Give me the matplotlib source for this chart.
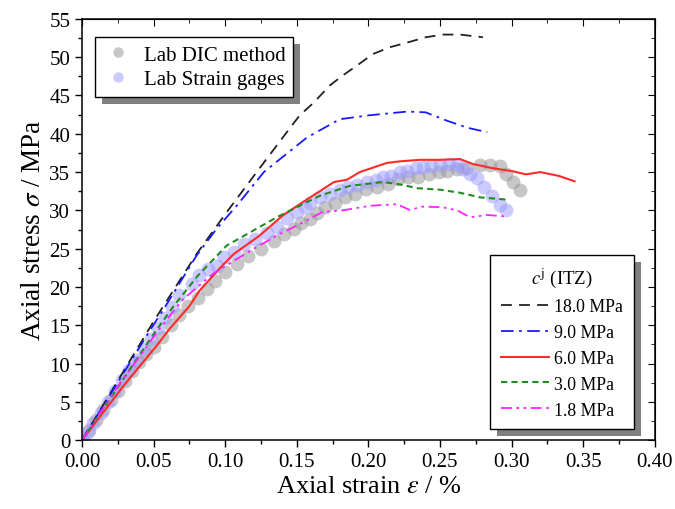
import numpy as np
import matplotlib.pyplot as plt
from matplotlib.patches import Rectangle

plt.rcParams['font.family'] = ['Liberation Serif', 'DejaVu Serif']
plt.rcParams['mathtext.fontset'] = 'stix'

# lab data (markers)
dic_x = [0.000, 0.005, 0.010, 0.015, 0.020, 0.025, 0.030, 0.035, 0.040, 0.045, 0.050, 0.056,
         0.062, 0.068, 0.074, 0.081, 0.087, 0.093, 0.100, 0.108, 0.116, 0.125, 0.134, 0.141,
         0.148, 0.153, 0.159, 0.164, 0.170, 0.177, 0.184, 0.191, 0.198, 0.206, 0.214, 0.221,
         0.228, 0.235, 0.242, 0.249, 0.255, 0.262, 0.269, 0.278, 0.285, 0.292, 0.296, 0.301, 0.306]
dic_y = [0.0, 1.3, 2.6, 3.9, 5.2, 6.4, 7.7, 9.0, 10.2, 11.2, 12.1, 13.5,
         15.0, 16.3, 17.5, 18.6, 19.7, 20.8, 21.9, 23.0, 24.1, 25.0, 26.0, 26.9,
         27.6, 28.4, 28.9, 29.7, 30.4, 31.0, 31.7, 32.1, 32.8, 33.0, 33.5, 34.1,
         34.3, 34.4, 34.7, 35.0, 35.2, 35.4, 35.5, 35.9, 35.9, 35.8, 34.8, 33.7, 32.7]
sg_x = [0.001, 0.004, 0.008, 0.013, 0.018, 0.023, 0.028, 0.033, 0.038, 0.043, 0.048, 0.053,
        0.058, 0.063, 0.068, 0.077, 0.082, 0.088, 0.094, 0.099, 0.106, 0.113, 0.121, 0.129,
        0.136, 0.143, 0.150, 0.156, 0.159, 0.166, 0.173, 0.180, 0.186, 0.192, 0.199, 0.205,
        0.210, 0.216, 0.222, 0.227, 0.233, 0.238, 0.244, 0.250, 0.256, 0.262, 0.266, 0.271,
        0.276, 0.281, 0.286, 0.292, 0.296]
sg_y = [0.3, 1.0, 2.3, 3.6, 5.0, 6.4, 7.8, 9.1, 10.5, 11.9, 13.2, 14.6,
        16.0, 17.4, 18.9, 20.4, 21.5, 22.3, 22.8, 23.9, 24.5, 25.6, 26.3, 27.1,
        27.8, 29.0, 29.8, 30.5, 31.0, 31.7, 32.1, 32.6, 33.0, 33.3, 33.7, 34.0,
        34.3, 34.5, 35.0, 35.2, 35.5, 35.7, 35.8, 35.9, 36.0, 35.9, 35.4, 34.8,
        34.2, 33.0, 31.9, 30.7, 30.0]

# model curves for ITZ cohesion
c18_x = [0.0, 0.05, 0.08, 0.10, 0.122, 0.143, 0.152, 0.162, 0.173, 0.182, 0.192, 0.203,
         0.215, 0.227, 0.240, 0.252, 0.264, 0.280]
c18_y = [0.0, 15.5, 24.3, 29.5, 35.0, 40.2, 42.4, 44.1, 46.3, 47.6, 48.9, 50.4,
         51.3, 51.9, 52.6, 52.95, 52.95, 52.6]
c9_x = [0.0, 0.048, 0.057, 0.080, 0.094, 0.108, 0.127, 0.157, 0.180, 0.200, 0.227, 0.240,
        0.255, 0.269, 0.283]
c9_y = [0.0, 14.5, 17.1, 24.1, 27.6, 30.6, 35.0, 39.5, 41.9, 42.4, 42.9, 42.8,
        41.7, 40.8, 40.2]
c6_x = [0.0, 0.029, 0.052, 0.061, 0.075, 0.082, 0.098, 0.106, 0.124, 0.140, 0.152, 0.176,
        0.185, 0.194, 0.213, 0.222, 0.236, 0.250, 0.264, 0.273, 0.287, 0.301, 0.310, 0.320,
        0.333, 0.344]
c6_y = [0.0, 7.1, 12.3, 14.5, 17.5, 19.5, 22.8, 24.3, 26.7, 29.3, 30.8, 33.7,
        34.0, 35.0, 36.2, 36.4, 36.6, 36.6, 36.7, 36.05, 35.5, 35.1, 34.7, 35.0,
        34.5, 33.8]
c3_x = [0.0, 0.051, 0.064, 0.081, 0.101, 0.120, 0.136, 0.152, 0.166, 0.187, 0.210, 0.222,
        0.234, 0.250, 0.264, 0.278, 0.297]
c3_y = [0.0, 14.1, 17.5, 21.5, 25.4, 27.4, 29.1, 30.6, 31.9, 33.2, 33.7, 33.4,
        32.9, 32.7, 32.3, 31.7, 31.4]
c18b_x = [0.0, 0.025, 0.052, 0.070, 0.092, 0.120, 0.138, 0.152, 0.168, 0.182, 0.201, 0.220,
          0.229, 0.238, 0.252, 0.262, 0.271, 0.283, 0.296]
c18b_y = [0.0, 7.0, 14.0, 18.3, 21.8, 25.0, 26.9, 28.2, 29.8, 30.0, 30.6, 30.8,
          30.05, 30.5, 30.4, 30.0, 29.1, 29.4, 29.2]

fig = plt.figure(figsize=(6.75, 5.1), dpi=100)
ax = fig.add_axes([0.1215, 0.135, 0.8485, 0.826])

ax.plot(dic_x, dic_y, 'o', ms=10, color='#999999', alpha=0.55, mec='none', label='Lab DIC method')
ax.plot(sg_x, sg_y, 'o', ms=10, color='#9999ff', alpha=0.5, mec='none', label='Lab Strain gages')

l1, = ax.plot(c18_x, c18_y, color='#222222', lw=1.3, dashes=(6, 4), label='18.0 MPa')
l2, = ax.plot(c9_x, c9_y, color='#1a1aff', lw=1.3, dashes=(7, 3, 1.5, 3), label='9.0 MPa')
l3, = ax.plot(c6_x, c6_y, color='#ff2a2a', lw=1.5, label='6.0 MPa')
l4, = ax.plot(c3_x, c3_y, color='#228b22', lw=1.5, dashes=(3, 2), label='3.0 MPa')
l5, = ax.plot(c18b_x, c18b_y, color='#ff22ff', lw=1.3, dashes=(6, 2.5, 1.5, 2.5, 1.5, 2.5), label='1.8 MPa')

ax.set_xlim(0, 0.40)
ax.set_ylim(0, 55)
ax.set_xticks(np.arange(0, 0.401, 0.05))
ax.set_yticks(np.arange(0, 56, 5))
ax.set_xticks(np.arange(0.025, 0.40, 0.05), minor=True)
ax.set_yticks(np.arange(2.5, 55, 5), minor=True)
ax.xaxis.set_major_formatter(plt.FormatStrFormatter('%.2f'))
ax.tick_params(which='both', direction='out', labelsize=15, width=1, top=False, right=False)
ax.tick_params(which='major', length=5)
ax.tick_params(which='minor', length=3)
for s in ax.spines.values():
    s.set_linewidth(1.1)

# inward ticks on the opposite spines
axt = ax.secondary_xaxis('top')
axt.set_xticks(np.arange(0, 0.401, 0.05))
axt.set_xticks(np.arange(0.025, 0.40, 0.05), minor=True)
axt.tick_params(which='both', direction='in', labeltop=False)
axt.tick_params(which='major', length=5)
axt.tick_params(which='minor', length=3)
axr = ax.secondary_yaxis('right')
axr.set_yticks(np.arange(0, 56, 5))
axr.set_yticks(np.arange(2.5, 55, 5), minor=True)
axr.tick_params(which='both', direction='in', labelright=False)
axr.tick_params(which='major', length=5)
axr.tick_params(which='minor', length=3)

ax.set_xlabel(r'Axial strain $\varepsilon$ / %', fontsize=19, labelpad=3)
ax.set_ylabel(r'Axial stress $\sigma$ / MPa', fontsize=19.5, labelpad=2)

mk = ax.get_lines()[:2]
leg1 = ax.legend(mk, [m.get_label() for m in mk], loc='upper left', bbox_to_anchor=(0.0227, 0.957),
                 borderaxespad=0, fancybox=False, edgecolor='black', framealpha=1, fontsize=15,
                 markerscale=0.75, handlelength=1.4, handletextpad=0.55, borderpad=0.38,
                 labelspacing=0.25)
leg1.get_frame().set_linewidth(1.0)
ax.add_artist(leg1)

curves = [l1, l2, l3, l4, l5]
leg2 = ax.legend(curves, [l.get_label() for l in curves],
                 title=r'$c^{\mathrm{j}}$ (ITZ)', loc='lower right', bbox_to_anchor=(0.963, 0.026),
                 borderaxespad=0, fancybox=False, edgecolor='black', framealpha=1, fontsize=12.8,
                 title_fontsize=13.5, handlelength=2.7, handletextpad=0.3, borderpad=0.6,
                 labelspacing=0.5)
leg2.get_frame().set_linewidth(1.0)

# grey drop shadows behind both legends
fig.canvas.draw()
inv = ax.transAxes.inverted()
for lg in (leg1, leg2):
    bb = lg.get_window_extent()
    (x0, y0), (x1, y1) = inv.transform([[bb.x0 + 7, bb.y0 - 7], [bb.x1 + 7, bb.y1 - 7]])
    ax.add_patch(Rectangle((x0, y0), x1 - x0, y1 - y0, transform=ax.transAxes,
                           facecolor='#808080', edgecolor='none', zorder=4.9, clip_on=False))

fig.savefig('out.png', dpi=100)
